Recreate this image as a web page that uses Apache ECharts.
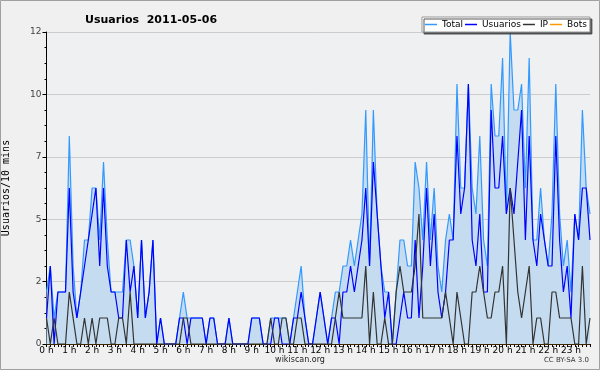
<!DOCTYPE html>
<html><head><meta charset="utf-8">
<script src="https://cdn.jsdelivr.net/npm/echarts@6/dist/echarts.min.js"></script>
<style>html,body{margin:0;padding:0;background:#f0f0f0}#c{width:600px;height:370px}</style>
</head><body><div id="c"></div>
<script>
const titleText = 'Usuarios  2011-05-06';
const hourLabels = ['0 h','1 h','2 h','3 h','4 h','5 h','6 h','7 h','8 h','9 h','10 h','11 h','12 h','13 h','14 h','15 h','16 h','17 h','18 h','19 h','20 h','21 h','22 h','23 h'];
const yTicks = [0, 2.4, 4.8, 7.2, 9.6, 12];
const legendNames = ['Total', 'Usuarios', 'IP', 'Bots'];
const total = [2,3,1,2,2,2,8,3,1,2,4,4,6,6,4,7,4,2,2,2,2,4,4,3,
  1,4,1,2,4,0,1,0,0,0,0,1,2,1,1,1,1,1,0,1,1,0,0,0,
  1,0,0,0,0,0,1,1,1,0,0,1,1,1,1,1,0,1,2,3,1,0,0,1,
  2,1,0,1,2,2,3,3,4,3,4,5,9,3,9,5,3,2,2,0,2,4,4,3,
  3,7,6,4,7,4,6,3,2,4,5,4,10,6,6,10,6,5,8,4,3,10,8,8,
  11,5,12,9,9,10,6,11,4,4,6,4,3,5,10,5,3,4,2,5,4,9,6,5];
const usuarios = [1,3,0,2,2,2,6,2,1,2,3,4,5,6,3,6,3,2,2,1,1,4,2,3,
  1,4,1,2,4,0,1,0,0,0,0,1,1,0,1,1,1,1,0,1,1,0,0,0,
  1,0,0,0,0,0,1,1,1,0,0,0,1,1,0,0,0,1,1,2,1,0,0,1,
  2,1,0,1,1,0,2,2,3,2,3,4,6,3,7,5,3,1,2,0,0,1,2,1,
  1,4,1,3,6,3,5,2,1,2,4,4,8,5,6,10,4,3,5,2,2,9,6,6,
  8,5,6,5,7,9,4,8,4,3,5,4,3,3,8,4,2,3,1,5,4,6,6,4];
const ip = [1,0,1,0,0,0,2,1,0,0,1,0,1,0,1,1,1,0,0,1,1,0,2,0,
  0,0,0,0,0,0,0,0,0,0,0,0,1,1,0,0,0,0,0,0,0,0,0,0,
  0,0,0,0,0,0,0,0,0,0,0,1,0,0,1,1,0,0,1,1,0,0,0,0,
  0,0,0,0,1,2,1,1,1,1,1,1,3,0,2,0,0,1,0,0,2,3,2,2,
  2,3,5,1,1,1,1,1,1,2,1,0,2,1,0,0,2,2,3,2,1,1,2,2,
  3,0,6,4,2,1,2,3,0,1,1,0,0,2,2,1,1,1,1,0,0,3,0,1];
const bots = [0,0,0,0,0,0,0,0,0,0,0,0,0,0,0,0,0,0,0,0,0,0,0,0,
  0,0,0,0,0,0,0,0,0,0,0,0,0,0,0,0,0,0,0,0,0,0,0,0,
  0,0,0,0,0,0,0,0,0,0,0,0,0,0,0,0,0,0,0,0,0,0,0,0,
  0,0,0,0,0,0,0,0,0,0,0,0,0,0,0,0,0,0,0,0,0,0,0,0,
  0,0,0,0,0,0,0,0,0,0,0,0,0,0,0,0,0,0,0,0,0,0,0,0,
  0,0,0,0,0,0,0,0,0,0,0,0,0,0,0,0,0,0,0,0,0,0,0,0];
const categories = [];
for (let h = 0; h < 24; h++) for (let m = 0; m < 60; m += 10) categories.push(h + ':' + (m < 10 ? '0' : '') + m);

const colors = {Total: '#3399ff', Usuarios: '#0000ff', IP: '#333333', Bots: '#ff9900'};
const chart = echarts.init(document.getElementById('c'), null, {renderer: 'canvas'});
chart.setOption({
  animation: false,
  backgroundColor: '#f0f0f0',
  title: {text: titleText, left: 80, top: 10, textStyle: {fontFamily: 'DejaVu Sans', fontSize: 11, fontWeight: 'bold', color: '#000'}},
  legend: {
    left: 422, top: 17, padding: [3, 3], itemGap: 2, itemWidth: 12, itemHeight: 1.5,
    backgroundColor: '#ffffff', borderColor: '#999999', borderWidth: 1,
    shadowColor: 'rgba(70,70,70,0.9)', shadowOffsetX: 2, shadowOffsetY: 2, shadowBlur: 0,
    textStyle: {fontFamily: 'DejaVu Sans', fontSize: 9, color: '#000'},
    data: legendNames.map(n => ({name: n, icon: 'rect', itemStyle: {color: colors[n]}}))
  },
  grid: {left: 46.5, right: 10, top: 32, bottom: 26, containLabel: false, outerBoundsMode: 'none',
    show: true, backgroundColor: '#eef0f2', borderWidth: 0},
  xAxis: {
    type: 'category', data: categories, boundaryGap: false,
    axisLine: {lineStyle: {color: '#000', width: 1}},
    axisTick: {show: true, interval: 0, length: 3, lineStyle: {color: '#000'}},
    axisLabel: {interval: (i) => i % 6 === 0, formatter: (v, i) => hourLabels[Math.round(i / 6)], fontFamily: 'DejaVu Sans', fontSize: 9, color: '#000', margin: 2},
    splitLine: {show: false}
  },
  yAxis: {
    type: 'value', min: yTicks[0], max: yTicks[yTicks.length - 1], interval: yTicks[1] - yTicks[0],
    name: 'Usuarios/10 mins', nameLocation: 'middle', nameGap: 35, nameRotate: 90,
    nameTextStyle: {fontFamily: 'DejaVu Sans Mono', fontSize: 10, color: '#000'},
    axisLine: {show: true, lineStyle: {color: '#000', width: 1}},
    axisTick: {show: true, length: 4, lineStyle: {color: '#000'}},
    minorTick: {show: true, splitNumber: 4, length: 2, lineStyle: {color: '#000'}},
    axisLabel: {formatter: v => String(Math.round(v)), fontFamily: 'DejaVu Sans', fontSize: 9, color: '#444', margin: 5},
    splitLine: {show: true, lineStyle: {color: '#cccccc', width: 1}}
  },
  series: [
    {name: 'Total', type: 'line', data: total, symbol: 'none', z: 3, color: colors.Total,
     lineStyle: {width: 1.2, color: colors.Total}, areaStyle: {color: '#c5dcf0', opacity: 1}},
    {name: 'Usuarios', type: 'line', data: usuarios, symbol: 'none', z: 4, color: colors.Usuarios,
     lineStyle: {width: 1.2, color: colors.Usuarios}},
    {name: 'IP', type: 'line', data: ip, symbol: 'none', z: 5, color: colors.IP,
     lineStyle: {width: 1.2, color: colors.IP}},
    {name: 'Bots', type: 'line', data: bots, symbol: 'none', z: 2, color: colors.Bots,
     lineStyle: {width: 1.2, color: colors.Bots}}
  ],
  graphic: [
    {type: 'rect', shape: {x: 0.5, y: 0.5, width: 599, height: 369}, style: {fill: null, stroke: '#a0a0a0', lineWidth: 1}, silent: true, z: 100},
    {type: 'text', left: 'center', top: 356, style: {text: 'wikiscan.org', font: '8px "DejaVu Sans"', fill: '#222'}},
    {type: 'text', right: 11, top: 357, style: {text: 'CC BY-SA 3.0', font: '7px "DejaVu Sans"', fill: '#333'}}
  ]
});
</script></body></html>
